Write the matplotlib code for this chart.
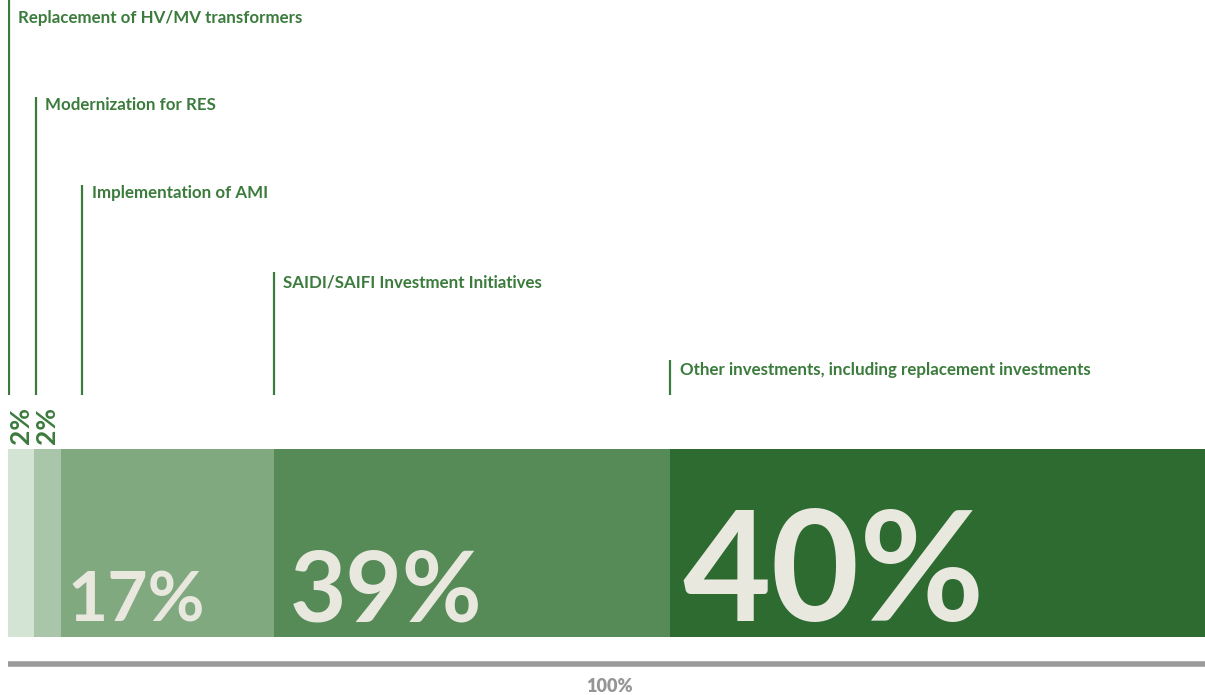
import matplotlib.pyplot as plt

# investment categories (left to right) and their shares
categories = ["Replacement of HV/MV transformers",
              "Modernization for RES",
              "Implementation of AMI",
              "SAIDI/SAIFI Investment Initiatives",
              "Other investments, including replacement investments"]
share_labels = ["2%", "2%", "17%", "39%", "40%"]
# segment widths as drawn in the picture (share of the full bar)
drawn_widths = [2.2, 2.2, 17.8, 33.1, 44.7]
total_label = "100%"

colors = ["#d3e3d4", "#a9c6aa", "#80a980", "#568b57", "#2d6b30"]
green = "#3b7b3c"
light = "#e8e8df"

plt.rcParams['font.family'] = ['Lato', 'DejaVu Sans']

fig = plt.figure(figsize=(12.05, 6.95), dpi=100)
ax = fig.add_axes([8 / 1205, 0, 1 - 8 / 1205, 1])
ax.set_xlim(0, sum(drawn_widths))
ax.set_ylim(695, 0)   # y in pixels from top
ax.axis('off')

lefts = [sum(drawn_widths[:i]) for i in range(len(drawn_widths))]
ax.barh(543, drawn_widths, left=lefts, height=188, color=colors, linewidth=0)

# leader lines and category labels, staircase from top
label_tops = [0, 97, 185, 272, 360]
label_y = [18, 105, 193, 282, 370]
line_x = [lefts[0] + 0.05, lefts[1] + 0.1, lefts[2] + 1.8, lefts[3], lefts[4]]
for x, top, ly, name in zip(line_x, label_tops, label_y, categories):
    ax.plot([x, x], [top, 395], color=green, lw=1.6, solid_capstyle='butt')
    ax.text(x + 0.8, ly, name, color=green, fontsize=12.2, fontweight='bold',
            va='center', ha='left')

# small rotated labels for the narrow segments
for i in range(2):
    ax.text(lefts[i] + drawn_widths[i] / 2 - 0.05, 444, share_labels[i],
            rotation=90, color=green, fontsize=19, fontweight='bold',
            ha='center', va='bottom')

# big labels inside the wide segments
sizes = [50, 70, 110]
offsets = [0.6, 1.3, 1.0]
for i, fs, off in zip(range(2, 5), sizes, offsets):
    ax.text(lefts[i] + off, 621, share_labels[i], color=light, fontsize=fs,
            fontweight='bold', ha='left', va='baseline')

# total line
ax.plot([0, sum(drawn_widths)], [664, 664], color="#9a9a9a", lw=4,
        solid_capstyle='butt')
ax.text(50.2, 686, total_label, color="#959595", fontsize=13,
        fontweight='heavy', ha='center', va='center')

fig.savefig("out.png", dpi=100)
